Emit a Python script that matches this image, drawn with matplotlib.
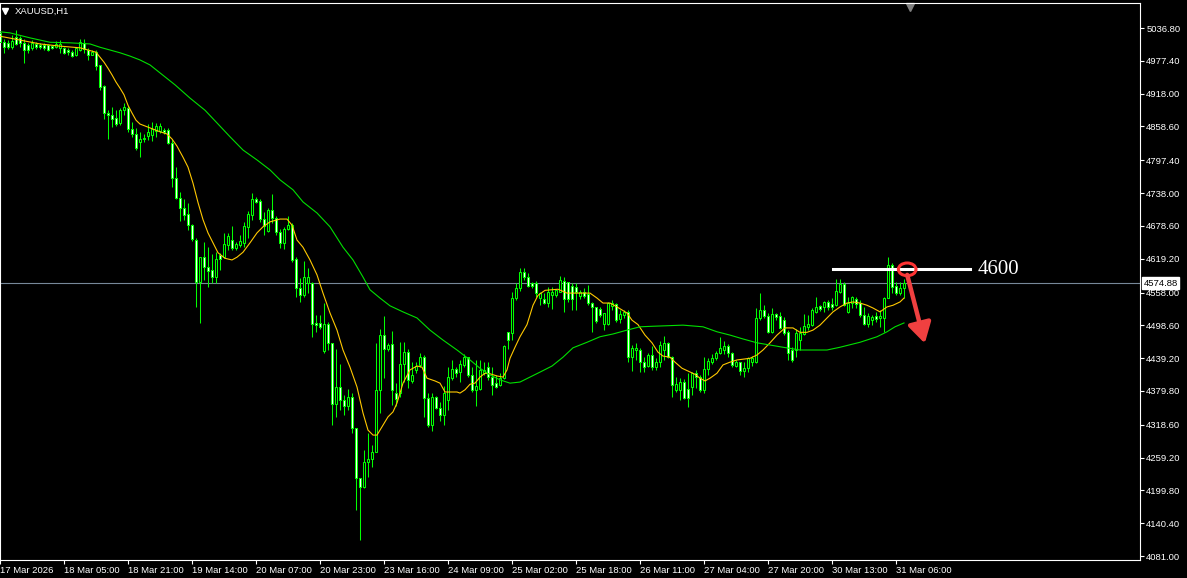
import numpy as np
import matplotlib
matplotlib.use("Agg")
import matplotlib.pyplot as plt
from matplotlib.patches import Ellipse
import matplotlib.transforms as mtransforms

# XAUUSD H1 candles (bar index = position on chart)
opens = [
    5028, 5011, 5010, 5002, 5020, 5019, 5010, 5006, 5001, 5008,
    5006, 5006, 5006, 5004, 5002, 5001, 5001, 4997, 4993, 4988,
    4997, 5010, 4997, 4988, 4993, 4970, 4932, 4883, 4879, 4874,
    4865, 4888, 4892, 4854, 4845, 4830, 4836, 4841, 4843, 4850,
    4850, 4852, 4852, 4829, 4765, 4729, 4711, 4700, 4680, 4653,
    4577, 4622, 4604, 4599, 4586, 4626, 4622, 4644, 4653, 4639,
    4644, 4648, 4677, 4698, 4727, 4724, 4691, 4669, 4707, 4693,
    4668, 4648, 4673, 4680, 4619, 4566, 4553, 4575, 4575, 4503,
    4503, 4452, 4501, 4467, 4356, 4387, 4363, 4353, 4369, 4313,
    4222, 4206, 4251, 4257, 4269, 4382, 4481, 4456, 4465, 4376,
    4376, 4429, 4450, 4398, 4418, 4427, 4441, 4367, 4318, 4369,
    4349, 4336, 4363, 4403, 4420, 4414, 4427, 4441, 4409, 4382,
    4383, 4412, 4423, 4405, 4394, 4391, 4403, 4487, 4485, 4548,
    4566, 4595, 4586, 4575, 4575, 4548, 4546, 4539, 4553, 4553,
    4559, 4579, 4577, 4570, 4568, 4551, 4559, 4555, 4539, 4532,
    4528, 4501, 4501, 4534, 4537, 4510, 4517, 4523, 4441, 4454,
    4454, 4432, 4425, 4445, 4423, 4432, 4454, 4467, 4441, 4382,
    4382, 4396, 4383, 4387, 4412, 4405, 4382, 4420, 4432, 4439,
    4449, 4454, 4461, 4449, 4425, 4432, 4416, 4421, 4432, 4432,
    4512, 4526, 4515, 4487, 4519, 4515, 4508, 4487, 4454, 4454,
    4472, 4483, 4496, 4499, 4523, 4534, 4532, 4541, 4537, 4535,
    4559, 4573, 4523, 4539, 4546, 4539, 4517, 4501, 4508, 4515,
    4512, 4512, 4548, 4608, 4570, 4557, 4566,
]
highs = [
    5031, 5017, 5015, 5024, 5033, 5022, 5017, 5010, 5015, 5011,
    5010, 5010, 5008, 5006, 5013, 5015, 5002, 5001, 4997, 5002,
    5017, 5017, 5001, 4997, 4997, 4970, 4934, 4888, 4894, 4888,
    4892, 4901, 4896, 4867, 4856, 4849, 4845, 4863, 4867, 4865,
    4865, 4856, 4856, 4836, 4785, 4740, 4727, 4720, 4682, 4657,
    4622, 4650, 4640, 4628, 4631, 4630, 4666, 4666, 4678, 4650,
    4662, 4686, 4706, 4738, 4731, 4727, 4704, 4711, 4736, 4696,
    4673, 4677, 4696, 4684, 4622, 4584, 4615, 4602, 4577, 4517,
    4517, 4539, 4505, 4467, 4456, 4429, 4373, 4383, 4376, 4313,
    4222, 4273, 4304, 4282, 4467, 4492, 4516, 4467, 4488, 4394,
    4468, 4468, 4456, 4432, 4432, 4449, 4445, 4376, 4376, 4371,
    4360, 4389, 4423, 4436, 4423, 4436, 4447, 4441, 4423, 4436,
    4436, 4432, 4432, 4423, 4409, 4412, 4463, 4487, 4559, 4575,
    4602, 4602, 4593, 4577, 4579, 4559, 4557, 4568, 4568, 4564,
    4588, 4586, 4577, 4575, 4575, 4562, 4566, 4572, 4541, 4532,
    4532, 4521, 4541, 4544, 4539, 4526, 4526, 4526, 4463, 4467,
    4458, 4441, 4449, 4461, 4439, 4470, 4479, 4468, 4443, 4405,
    4403, 4401, 4412, 4414, 4418, 4409, 4441, 4439, 4447, 4452,
    4478, 4470, 4465, 4450, 4436, 4432, 4432, 4441, 4443, 4530,
    4557, 4535, 4521, 4530, 4521, 4523, 4514, 4490, 4459, 4492,
    4496, 4519, 4517, 4530, 4550, 4535, 4543, 4544, 4548, 4583,
    4583, 4577, 4550, 4552, 4550, 4544, 4532, 4521, 4517, 4523,
    4526, 4550, 4622, 4611, 4577, 4577, 4582,
]
lows = [
    5010, 4992, 4999, 4999, 5006, 5002, 4973, 4992, 4997, 4999,
    4999, 4997, 4995, 4999, 5001, 4992, 4990, 4988, 4984, 4986,
    4995, 4992, 4979, 4988, 4961, 4925, 4872, 4836, 4858, 4859,
    4861, 4879, 4849, 4840, 4816, 4803, 4830, 4834, 4832, 4840,
    4847, 4845, 4827, 4749, 4727, 4687, 4689, 4671, 4651, 4532,
    4503, 4581, 4568, 4575, 4575, 4599, 4620, 4635, 4635, 4635,
    4640, 4640, 4657, 4689, 4720, 4686, 4662, 4668, 4684, 4662,
    4639, 4637, 4671, 4613, 4550, 4541, 4550, 4557, 4477, 4487,
    4492, 4449, 4454, 4318, 4333, 4345, 4336, 4345, 4304, 4164,
    4110, 4204, 4224, 4242, 4269, 4340, 4403, 4452, 4354, 4353,
    4369, 4396, 4385, 4394, 4412, 4423, 4333, 4314, 4307, 4347,
    4325, 4318, 4345, 4400, 4405, 4396, 4423, 4405, 4378, 4353,
    4382, 4409, 4400, 4373, 4385, 4389, 4401, 4456, 4472, 4545,
    4561, 4581, 4568, 4566, 4550, 4536, 4537, 4532, 4528, 4550,
    4559, 4523, 4541, 4526, 4526, 4546, 4548, 4535, 4487, 4503,
    4514, 4490, 4499, 4526, 4505, 4503, 4512, 4432, 4416, 4436,
    4414, 4414, 4423, 4418, 4418, 4423, 4436, 4439, 4369, 4378,
    4363, 4365, 4351, 4373, 4385, 4378, 4376, 4409, 4429, 4436,
    4447, 4447, 4441, 4423, 4423, 4409, 4405, 4414, 4425, 4430,
    4508, 4512, 4485, 4485, 4508, 4492, 4481, 4436, 4432, 4441,
    4454, 4481, 4490, 4497, 4521, 4525, 4523, 4526, 4526, 4534,
    4557, 4534, 4521, 4530, 4530, 4514, 4499, 4496, 4499, 4505,
    4496, 4487, 4548, 4557, 4553, 4553, 4548,
]
closes = [
    5012, 5002, 5002, 5013, 5008, 5010, 4997, 4997, 5010, 5002,
    5002, 5001, 4997, 5001, 5008, 5008, 4992, 4993, 4986, 5001,
    5011, 4999, 4988, 4993, 4968, 4930, 4883, 4879, 4872, 4863,
    4888, 4894, 4854, 4845, 4820, 4836, 4838, 4849, 4854, 4859,
    4859, 4849, 4829, 4765, 4729, 4711, 4698, 4680, 4655, 4577,
    4622, 4604, 4597, 4586, 4619, 4619, 4646, 4660, 4639, 4646,
    4651, 4678, 4700, 4727, 4722, 4691, 4678, 4707, 4693, 4668,
    4648, 4673, 4680, 4617, 4566, 4553, 4586, 4586, 4501, 4499,
    4496, 4501, 4467, 4356, 4387, 4363, 4353, 4369, 4313, 4222,
    4206, 4251, 4257, 4269, 4382, 4481, 4456, 4463, 4382, 4365,
    4429, 4450, 4400, 4409, 4425, 4441, 4367, 4318, 4369, 4349,
    4336, 4376, 4405, 4420, 4412, 4429, 4441, 4409, 4382, 4389,
    4418, 4418, 4405, 4391, 4387, 4403, 4461, 4472, 4548, 4566,
    4595, 4586, 4570, 4570, 4557, 4557, 4539, 4559, 4559, 4562,
    4581, 4546, 4546, 4546, 4559, 4559, 4551, 4539, 4532, 4506,
    4517, 4521, 4539, 4539, 4508, 4519, 4523, 4441, 4458, 4458,
    4432, 4423, 4445, 4423, 4432, 4463, 4467, 4441, 4391, 4392,
    4396, 4367, 4367, 4412, 4405, 4382, 4420, 4434, 4439, 4449,
    4458, 4461, 4449, 4427, 4432, 4416, 4421, 4439, 4439, 4512,
    4526, 4515, 4487, 4519, 4514, 4494, 4485, 4449, 4436, 4485,
    4485, 4497, 4501, 4526, 4532, 4528, 4541, 4532, 4532, 4561,
    4573, 4535, 4539, 4550, 4537, 4517, 4501, 4515, 4514, 4510,
    4515, 4548, 4608, 4568, 4557, 4566, 4574.88,
]

# moving averages (bar position, price)
fast_ma_bar = [0, 5, 10, 15, 20, 22, 24, 25, 26, 27, 28, 29, 30, 31, 32, 33, 34, 35,
               37.5, 40, 41.75, 43, 44.25, 45.75, 47, 48.25, 49.5, 50.75, 52, 53.25,
               54.5, 56.25, 58, 59.25, 60.75, 62.5, 64.25, 65.75, 67.5, 70, 71.75, 73,
               74.25, 75.75, 77.5, 79.25, 80.75, 82.5, 84.25, 85.75, 87.5, 89.25, 90.75,
               92, 93.25, 94.25, 95.5, 97, 98.25, 99.25, 100.75, 102.5, 104.25, 105.5,
               106.75, 108.75, 110, 111.25, 114.25, 115, 116.25, 117.5, 118.75, 120,
               121.25, 122.5, 124.25, 125.75, 126.75, 127.5, 128.75, 130, 131.75, 133.25,
               134.5, 136.25, 139.5, 141.75, 147.5, 149.25, 150.75, 152.5, 154.25, 156.75,
               158, 159.5, 161.25, 163, 164.5, 165.75, 167.5, 168.75, 170.5, 172, 173.75,
               175, 176.25, 177.5, 179.25, 180.75, 182.5, 184.25, 187.5, 189.25, 190.75,
               192.5, 194.25, 196.25, 198.25, 200, 201.75, 203.25, 205, 206.75, 208.25,
               210, 211.75, 213.25, 215, 216.75, 218.25, 220, 221.75, 223.25, 225, 226]
fast_ma = [5022, 5015, 5008, 5004, 5001, 4997, 4993, 4984, 4975, 4964, 4952, 4939, 4928,
           4916, 4897, 4883, 4870, 4863, 4856, 4849, 4845, 4836, 4823, 4803, 4785, 4756,
           4721, 4690, 4666, 4648, 4630, 4620, 4617, 4622, 4631, 4648, 4666, 4677, 4686,
           4691, 4691, 4680, 4653, 4640, 4617, 4590, 4557, 4521, 4490, 4454, 4423, 4387,
           4340, 4309, 4300, 4300, 4315, 4333, 4342, 4358, 4394, 4418, 4425, 4423, 4403,
           4398, 4394, 4378, 4378, 4376, 4382, 4392, 4394, 4405, 4412, 4411, 4407, 4405,
           4418, 4439, 4459, 4478, 4500, 4535, 4553, 4562, 4564, 4557, 4557, 4548, 4539,
           4539, 4532, 4521, 4508, 4500, 4481, 4467, 4450, 4443, 4441, 4432, 4421, 4416,
           4410, 4403, 4398, 4403, 4412, 4427, 4432, 4436, 4439, 4445, 4454, 4467, 4481,
           4494, 4494, 4486, 4486, 4490, 4499, 4512, 4523, 4532, 4539, 4541, 4539, 4535,
           4530, 4523, 4532, 4535, 4541, 4548]

slow_ma_bar = [0, 2.5, 7.5, 12.5, 17.5, 22.5, 25, 27.5, 30, 32.5, 35, 37.5, 43.75, 47.5,
               51.25, 54.25, 57.5, 60.75, 64.25, 67.5, 70, 73.25, 75.75, 79.25, 82.5,
               85.75, 88.25, 90.75, 92.5, 95, 97.5, 100.75, 104.25, 107.5, 110.75, 114.25,
               117.5, 120, 122.5, 125, 127.5, 130, 132.5, 135, 138, 140.75, 143.25, 146.75,
               150, 153.25, 156.75, 160, 163.25, 170.75, 175.75, 179.25, 182.5, 185.75,
               189.25, 192.5, 195.75, 200, 206.75, 210, 215, 219.25, 221.75, 223.75, 226]
slow_ma = [5030, 5028, 5019, 5011, 5010, 5008, 5002, 4997, 4992, 4986, 4979, 4970, 4934,
           4910, 4888, 4865, 4840, 4816, 4798, 4780, 4762, 4744, 4722, 4702, 4677, 4640,
           4617, 4586, 4563, 4548, 4534, 4523, 4512, 4490, 4472, 4454, 4436, 4421, 4409,
           4400, 4394, 4396, 4405, 4414, 4425, 4441, 4458, 4468, 4478, 4483, 4490, 4496,
           4497, 4499, 4496, 4487, 4481, 4474, 4467, 4463, 4459, 4454, 4454, 4459, 4468,
           4478, 4487, 4496, 4503]

date_ticks = ["17 Mar 2026", "18 Mar 05:00", "18 Mar 21:00", "19 Mar 14:00",
              "20 Mar 07:00", "20 Mar 23:00", "23 Mar 16:00", "24 Mar 09:00",
              "25 Mar 02:00", "25 Mar 18:00", "26 Mar 11:00", "27 Mar 04:00",
              "27 Mar 20:00", "30 Mar 13:00", "31 Mar 06:00"]
price_ticks = [5036.80, 4977.40, 4918.00, 4858.60, 4797.40, 4738.00, 4678.60, 4619.20,
               4558.00, 4498.60, 4439.20, 4379.80, 4318.60, 4259.20, 4199.80, 4140.40,
               4081.00]
bid = 4574.88
level = 4600

LIME = "#00ff00"
W, H = 1187, 578

fig = plt.figure(figsize=(W / 100, H / 100), dpi=100, facecolor="black")
ax = fig.add_axes([0, (H - 560) / H, 1140 / W, (560 - 3) / H], facecolor="black")

o = np.array(opens, float)
c = np.array(closes, float)
hi = np.array(highs, float)
lo = np.array(lows, float)
x = np.arange(len(o))

ax.vlines(x, lo, hi, color=LIME, lw=0.75, zorder=2)
fills = np.where(c < o, "white", "black")
ax.bar(x, c - o, bottom=o, width=0.62, color=fills, edgecolor=LIME, linewidth=0.75,
       zorder=3)

ax.plot(fast_ma_bar, fast_ma, color="#ffc800", lw=0.8, zorder=4)
ax.plot(slow_ma_bar, slow_ma, color="#00e000", lw=0.8, zorder=4)

ax.axhline(bid, color="#778899", lw=0.8, zorder=1)

ax.set_xlim(0, 285)
ax.set_ylim(4073.9, 5082.1)

for s in ax.spines.values():
    s.set_color("white")
    s.set_linewidth(0.8)

ax.yaxis.tick_right()
ax.set_yticks(price_ticks)
ax.set_yticklabels([f"{v:.2f}" for v in price_ticks])
ax.set_xticks(np.arange(len(date_ticks)) * 16)
ax.set_xticklabels(date_ticks)
ax.tick_params(colors="white", labelcolor="white", labelsize=6.8, length=3, width=0.8,
               direction="out", pad=1.5)
for lbl in ax.get_xticklabels():
    lbl.set_horizontalalignment("left")
    lbl.set_fontfamily("Liberation Sans")
for lbl in ax.get_yticklabels():
    lbl.set_fontfamily("Liberation Sans")

# bid price label
trans = mtransforms.blended_transform_factory(ax.transAxes, ax.transData)
ax.text(1.003, bid, "4574.88", transform=trans, fontsize=6.8, family="Liberation Sans",
        color="black", va="center", ha="left", zorder=10, clip_on=False,
        bbox=dict(boxstyle="square,pad=0.15", facecolor="white", edgecolor="white"))

# symbol label
ax.text(0.013, 0.985, "XAUUSD,H1", transform=ax.transAxes, color="white", fontsize=6.8,
        family="Liberation Sans", va="center", ha="left")
ax.plot([0.0045], [0.986], marker="v", color="white", markersize=4,
        transform=ax.transAxes, clip_on=False)
# chart shift marker
ax.plot([910 / 1140], [0.992], marker="v", color="#808080", markersize=6,
        transform=ax.transAxes, clip_on=False)

# analyst annotation
ax.plot([208.25, 242.5], [level, level], color="white", lw=2.2, zorder=6)
ax.text(244.3, level, str(level), color="white", fontsize=15, family="Liberation Serif",
        va="center", ha="left", zorder=6)
ax.add_patch(Ellipse((226.8, level), 4.4, 23, fill=False, edgecolor="#ff3333", lw=2.2,
                     zorder=7))
ax.annotate("", xy=(231.2, 4466), xytext=(226.8, 4590),
            arrowprops=dict(arrowstyle="-|>,head_length=1.2,head_width=0.7",
                            color="#f04040", lw=3.2, shrinkA=0, shrinkB=0),
            zorder=7)

fig.savefig("out.png", dpi=100, facecolor="black")
